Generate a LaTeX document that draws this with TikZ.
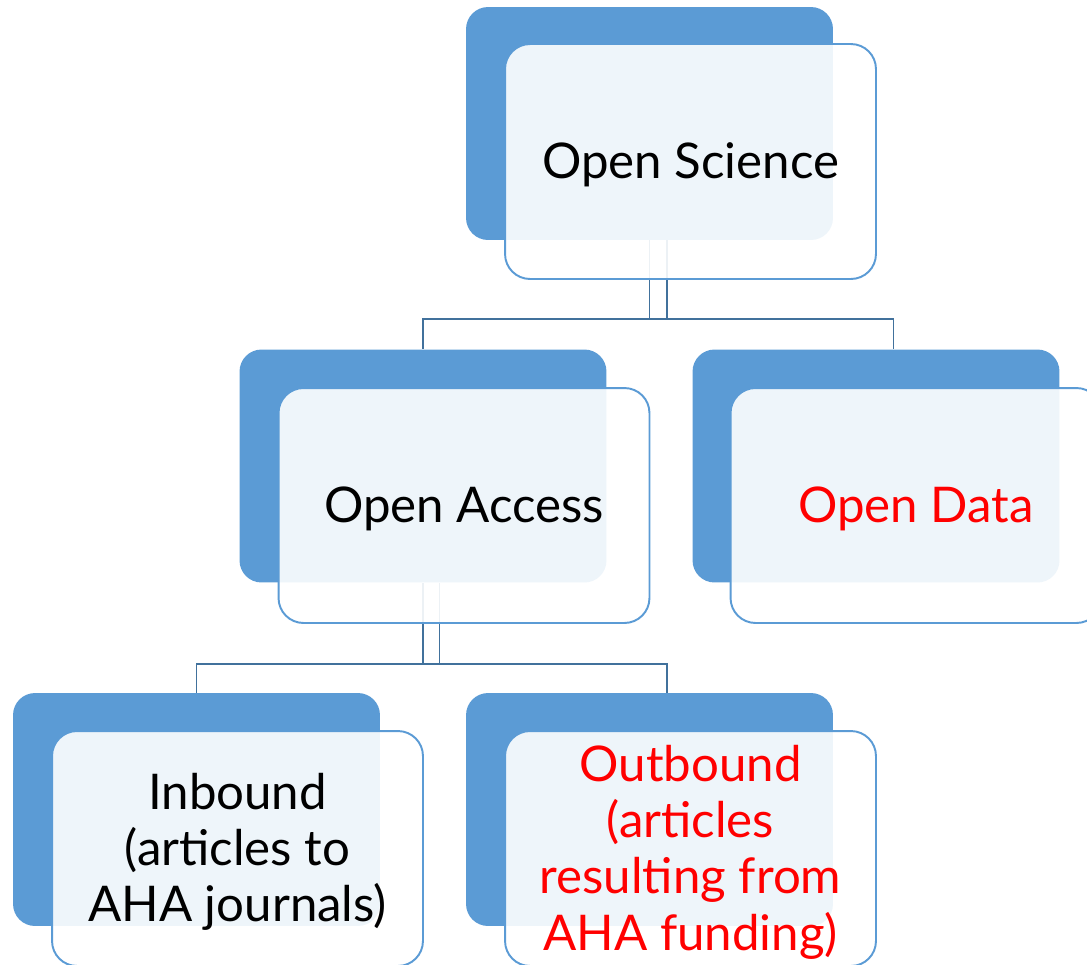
\documentclass[tikz,border=0pt]{standalone}
\usepackage{fontspec}
\setmainfont{Lato}
\usetikzlibrary{
    positioning,% wg. " of "
    calc%
}
\definecolor{backblue}{HTML}{5B9BD5}
\definecolor{linkblue}{HTML}{41719C}
\definecolor{hotred}{HTML}{FF0000}

\tikzset{
    backbox/.style={rounded corners=0.44cm, fill=backblue, draw=none,
        minimum width=7.34cm, minimum height=4.66cm, inner sep=0pt},
    frontbox/.style={rounded corners=0.5cm, draw=backblue, line width=1.1pt,
        fill=white, fill opacity=0.9, text opacity=1,
        minimum width=7.42cm, minimum height=4.7cm, inner sep=0pt, align=center,
        text depth=1pt, font=\fontsize{28}{32}\selectfont},
    link/.style={draw=linkblue, line width=1.1pt}
}

\begin{document}
\begin{tikzpicture}[x=0.02cm,y=-0.02cm]
    \useasboundingbox (0,0) rectangle (1087,964);

    %%% back boxes
    \node[backbox] (osb) at (649.5,123.5) {};
    \node[backbox] (oab) at (423,466) {};
    \node[backbox] (odb) at (876,466) {};
    \node[backbox] (ibb) at (196.5,809.5) {};
    \node[backbox] (obb) at (649.5,809.5) {};

    %%% connectors, behind the front boxes
    \draw[link] ([xshift=0.35cm]osb.south) -- ++(0,79) -| (oab.north);
    \draw[link] (osb.south) -- ++(0,79) -| ([xshift=0.35cm]odb.north);
    \draw[link] ([xshift=0.33cm]oab.south) -- ++(0,81) -| (ibb.north);
    \draw[link] (oab.south) -- ++(0,81) -| ([xshift=0.35cm]obb.north);

    %%% front boxes with the texts
    \node[frontbox] (os) at (690.5,161.5) {Open Science};
    \node[frontbox] (oa) at (464,505.5) {Open Access};
    \node[frontbox, text=hotred] (od) at (916,505.5) {Open Data};
    \node[frontbox] (ib) at (237.5,848.5) {Inbound\\(articles to\\AHA journals)};
    \node[frontbox, text=hotred] (ob) at (690.5,848.5) {Outbound\\(articles\\resulting from\\AHA funding)};
\end{tikzpicture}
\end{document}
